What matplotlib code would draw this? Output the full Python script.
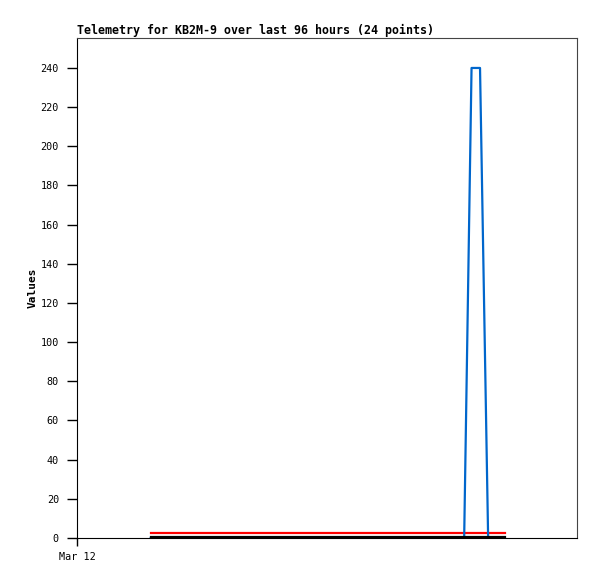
import datetime as dt
import matplotlib
matplotlib.use("Agg")
import matplotlib.pyplot as plt
import matplotlib.dates as mdates

# Data: hours after the first sample (first sample Mar 12 20:00)
start = dt.datetime(2024, 3, 12, 20, 0)
offsets = [0, 5, 10, 14, 19, 24, 28, 33, 38, 42, 47, 52, 56, 61, 66, 70,
           75, 80, 85, 87, 89.3, 91.5, 94, 96]
blue_vals = [0] * 18 + [0, 240, 240, 0, 0, 0]
red_vals = [2.7] * 24
black_vals = [0.5] * 24

times = [start + dt.timedelta(hours=h) for h in offsets]

plt.rcParams["font.family"] = ["DejaVu Sans Mono"]

fig = plt.figure(figsize=(5.97, 5.79), dpi=100)
ax = fig.add_axes([77 / 597, 41 / 579, 500 / 597, 500 / 579])

ax.plot(times, red_vals, color="#ff0000", lw=1.6)
ax.plot(times, blue_vals, color="#0066cc", lw=1.6)
ax.plot(times, black_vals, color="black", lw=1.6)

ax.set_xlim(dt.datetime(2024, 3, 12), dt.datetime(2024, 3, 12) + dt.timedelta(hours=135.6))
ax.set_ylim(0, 255.3)
ax.set_yticks(range(0, 241, 20))
ax.set_xticks([dt.datetime(2024, 3, 12)])
ax.xaxis.set_major_formatter(mdates.DateFormatter("%b %d"))

ax.tick_params(direction="out", length=7, width=1, labelsize=7.3, pad=6)
ax.tick_params(axis="x", length=6, pad=4)
for s in ["top", "right"]:
    ax.spines[s].set_color("#444444")
for s in ["left", "bottom"]:
    ax.spines[s].set_color("black")

ax.set_ylabel("Values", fontsize=8, fontweight="bold", labelpad=2)
ax.set_title("Telemetry for KB2M-9 over last 96 hours (24 points)",
             loc="left", fontsize=8.35, fontweight="bold", pad=3)

fig.savefig("out.png", dpi=100)
